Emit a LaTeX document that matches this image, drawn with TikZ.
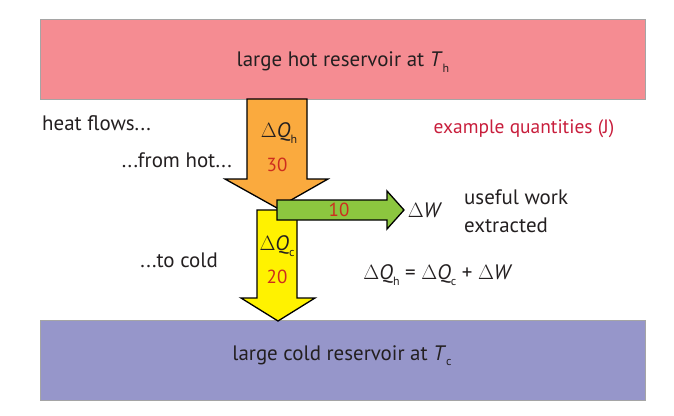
\documentclass[tikz,border=0pt]{standalone}
\usepackage{fontspec}
\setmainfont{PT Sans}
\definecolor{hotc}{RGB}{245,140,146}
\definecolor{coldc}{RGB}{150,150,202}
\definecolor{boxline}{RGB}{165,165,165}
\definecolor{orangec}{RGB}{250,170,62}
\definecolor{yellowc}{RGB}{255,242,0}
\definecolor{greenc}{RGB}{140,198,63}
\definecolor{numc}{RGB}{205,45,30}
\definecolor{exc}{RGB}{200,30,60}
\definecolor{txt}{RGB}{35,31,32}
\newcommand{\sbx}[1]{\raisebox{-0.5ex}{\fontsize{12}{12}\selectfont #1}}
\begin{document}
\begin{tikzpicture}[x=1bp,y=-1bp,
  reservoir/.style={fill=#1,draw=boxline,line width=1bp},
  blockarrow/.style={fill=#1,draw=black,line width=1.3bp,line join=miter},
  lbl/.style={text=txt,font=\fontsize{21}{24}\selectfont,inner sep=0pt},
  numlbl/.style={text=numc,font=\fontsize{19}{21}\selectfont,inner sep=0pt}]
\useasboundingbox (0,0) rectangle (674,415);
% reservoirs
\draw[reservoir=hotc] (40,19) rectangle (645,99);
\draw[reservoir=coldc] (40,320) rectangle (645,400);
\node[lbl] (hot) at (343,62) {large hot reservoir at \textit{T}\sbx{h}};
\node[lbl] (cold) at (342,356) {large cold reservoir at \textit{T}\sbx{c}};
% orange arrow
\draw[blockarrow=orangec] (247,99) -- (307,99) -- (307,179) -- (328,179) -- (277,208) -- (225,179) -- (247,179) -- cycle;
% yellow arrow
\draw[blockarrow=yellowc] (257,210) -- (297,210) -- (297,298) -- (315,298) -- (278,321) -- (241,298) -- (257,298) -- cycle;
% green arrow
\draw[blockarrow=greenc] (277,200) -- (387,200) -- (387,191) -- (404,210) -- (387,229) -- (387,220) -- (277,220) -- cycle;
% arrow labels
\node[lbl] (qh) at (279,133) {$\Delta$\textit{Q}\sbx{h}};
\node[numlbl] (n30) at (277,165) {30};
\node[lbl] (qc) at (277,246) {$\Delta$\textit{Q}\sbx{c}};
\node[numlbl] (n20) at (277,277) {20};
\node[numlbl] (n10) at (339,210) {10};
\node[lbl] (dw) at (425,210) {$\Delta$\textit{W}};
% side texts
\node[lbl,anchor=west] (hf) at (42,123) {heat flows...};
\node[lbl,anchor=east] (fh) at (232,160) {...from hot...};
\node[lbl,anchor=east] (tc) at (218,260) {...to cold};
\node[text=exc,font=\fontsize{19.5}{22}\selectfont,inner sep=0pt] (ex) at (524,129) {example quantities (J)};
\node[lbl,anchor=west,align=left,font=\fontsize{21}{28}\selectfont] (uw) at (464,211) {useful work\\extracted};
\node[lbl] (eq) at (438,275) {$\Delta$\textit{Q}\sbx{h} = $\Delta$\textit{Q}\sbx{c} + $\Delta$\textit{W}};
\end{tikzpicture}
\end{document}
